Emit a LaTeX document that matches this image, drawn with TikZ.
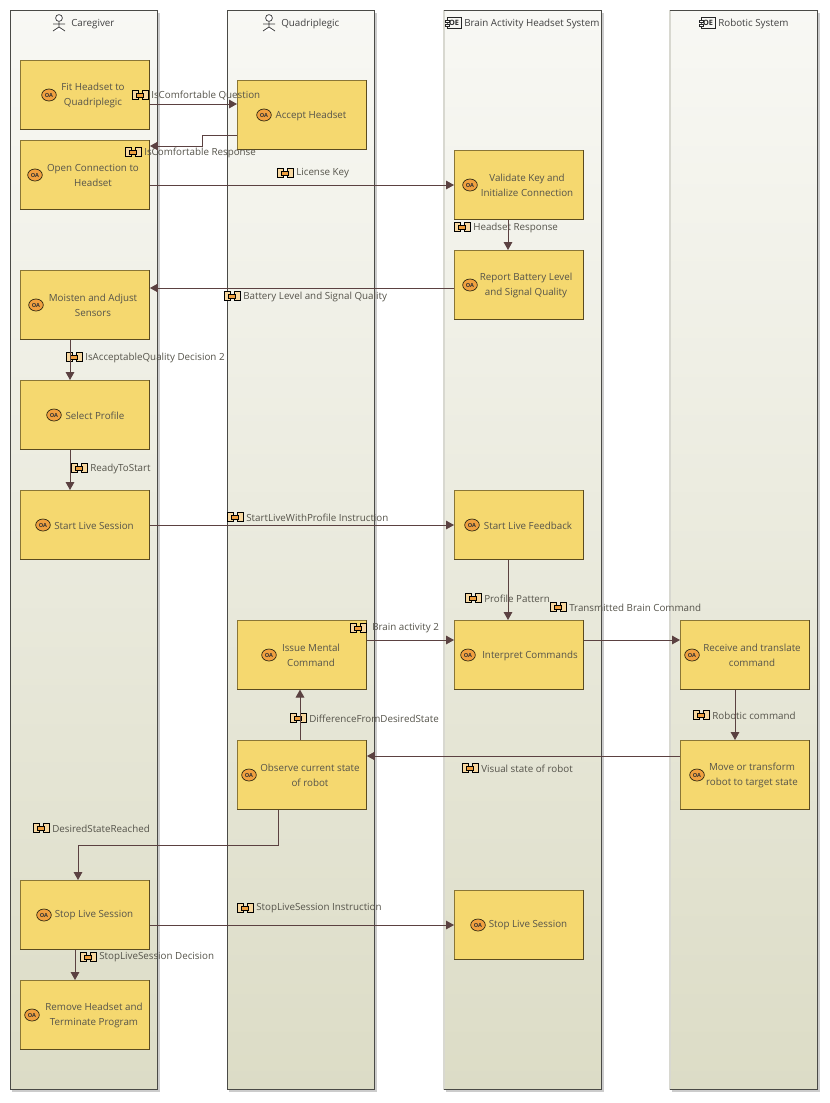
\documentclass[tikz,border=0pt]{standalone}
\usepackage{fontspec}
\setmainfont{Open Sans}
\usetikzlibrary{arrows.meta,calc,shapes.geometric}
\definecolor{lanetop}{HTML}{F8F8F4}
\definecolor{lanebot}{HTML}{DCDCC6}
\definecolor{laneline}{HTML}{4A4A46}
\definecolor{lanefaint}{HTML}{D8D8D0}
\definecolor{boxfill}{HTML}{F5D86F}
\definecolor{boxline}{HTML}{8A7636}
\definecolor{boxdark}{HTML}{5A4A20}
\definecolor{flow}{HTML}{5B4141}
\definecolor{txt}{HTML}{55534A}
\definecolor{iconorange}{HTML}{F0A040}
\definecolor{iconpale}{HTML}{F8D8A0}
\tikzset{
  x=0.75pt,y=-0.75pt,
  lanebg/.style={rectangle,inner sep=0pt,minimum height=809.25pt,anchor=north west,top color=lanetop,bottom color=lanebot,middle color=lanetop!50!lanebot},
  laneshadow/.style={fill=black!20,draw=none},
  lanerule/.style={draw=laneline,line width=0.7pt},
  lanehead/.style={inner sep=0pt,anchor=west,font=\fontsize{7.35pt}{10pt}\selectfont,text=black!75},
  actbox/.style={rectangle,inner sep=0pt,minimum width=96.75pt,minimum height=51.5pt,anchor=north west,fill=boxfill,draw=boxline,line width=0.7pt},
  acttext/.style={inner sep=0pt,align=center,font=\fontsize{7.35pt}{11.2pt}\selectfont,text=txt},
  oabadge/.style={ellipse,inner sep=0pt,minimum width=11pt,minimum height=9pt,fill=iconorange,draw=black!70!boxline,line width=0.5pt,font=\fontsize{4.2pt}{4.2pt}\selectfont\bfseries,text=black!80},
  extext/.style={inner sep=0pt,anchor=west,font=\fontsize{7.35pt}{10pt}\selectfont,text=txt},
  exicon/.style={rectangle,inner sep=0pt,minimum width=4.5pt,minimum height=7pt,fill=iconpale,draw=black,line width=0.75pt},
  flowline/.style={draw=flow,line width=0.7pt,-{Triangle[length=6pt,width=6.5pt]}},
  actor/.style={draw=black!75,line width=0.55pt,fill=white},
  compicon/.style={rectangle,inner sep=0pt,minimum width=10.5pt,minimum height=8.5pt,fill=lanetop,draw=black!85,line width=0.6pt,font=\fontsize{5.5pt}{5.5pt}\selectfont\bfseries,text=black!85}
}
% name, left x, top y, text cx, icon x, text
\newcommand{\activity}[6]{%
  \node[actbox] (#1) at (#2,#3) {};
  \draw[boxdark,line width=0.8pt] (#1.south west) -- (#1.south east) -- (#1.north east);
  \node[acttext] (#1-text) at ($(#2,#3)+(#4,35.5)$) {#6};
  \node[oabadge] (#1-icon) at ($(#2,#3)+(#5,35)$) {OA};
}
% name, icon x, y, text x, text
\newcommand{\exchange}[5]{%
  \node[exicon] (#1-a) at (#2-5,#3) {};
  \node[exicon] (#1-b) at (#2+5,#3) {};
  \fill[iconorange,draw=black,line width=0.3pt] (#2-4,#3-2) rectangle (#2+3.5,#3+2);
  \node[extext] (#1) at (#4,#3+0.5) {#5};
}
\newcommand{\laneshape}[3]{%
  \fill[laneshadow] (#2+2,13) rectangle (#2+#3+3,1092);
  \node[lanebg,minimum width=#3*0.75pt] (#1) at (#2,10) {};
}
\newcommand{\actorfig}[3]{%
  \draw[actor] (#2,#3-5) circle (3.4);
  \draw[actor] (#2,#3-1.6) -- (#2,#3+4) (#2-6,#3+1) -- (#2+6,#3+1) (#2-6,#3+8) -- (#2,#3+4) -- (#2+6,#3+8);
  \node[inner sep=0pt] (#1) at (#2,#3) {};
}
\newcommand{\comp}[3]{%
  \node[compicon] (#1) at (#2+1,#3) {OE};
  \fill[white,draw=black!85,line width=0.3pt] (#2-8,#3-3) rectangle (#2-4,#3-0.7) (#2-8,#3+0.7) rectangle (#2-4,#3+3);
}
\begin{document}
\begin{tikzpicture}
\useasboundingbox (0,0) rectangle (830,1103);
% lanes
\laneshape{L1}{10}{147}
\laneshape{L2}{227}{147}
\laneshape{L3}{444}{157}
\laneshape{L4}{670}{147}
\draw[lanerule] (L1.north west) rectangle (L1.south east);
\draw[lanerule] (L2.north west) rectangle (L2.south east);
\draw[lanefaint,line width=0.8pt] (L3.north west) -- (L3.south west);
\draw[lanefaint,line width=0.8pt] (L4.north west) -- (L4.south west);
\draw[lanerule] (L3.north west) -- (L3.north east) -- (L3.south east) -- (L3.south west);
\draw[lanerule] (L4.north west) -- (L4.north east) -- (L4.south east) -- (L4.south west);
% headers
\actorfig{h1i}{59}{23}
\node[lanehead] (h1) at (71,24) {Caregiver};
\actorfig{h2i}{269}{23}
\node[lanehead] (h2) at (281,24) {Quadriplegic};
\comp{h3i}{453}{23}
\node[lanehead] (h3) at (464,24) {Brain Activity Headset System};
\comp{h4i}{707}{23}
\node[lanehead] (h4) at (718,24) {Robotic System};
% activities
\activity{fit}{20}{60}{73}{29}{Fit Headset to\\Quadriplegic}
\activity{accept}{237}{80}{74}{27}{Accept Headset}
\activity{open}{20}{140}{73}{15}{Open Connection to\\Headset}
\activity{validate}{454}{150}{73}{16}{Validate Key and\\Initialize Connection}
\activity{report}{454}{250}{72}{16}{Report Battery Level\\and Signal Quality}
\activity{moisten}{20}{270}{73}{16}{Moisten and Adjust\\Sensors}
\activity{select}{20}{380}{75}{34}{Select Profile}
\activity{startl}{20}{490}{74}{23}{Start Live Session}
\activity{feedback}{454}{490}{74}{18}{Start Live Feedback}
\activity{issue}{237}{620}{74}{32}{Issue Mental\\Command}
\activity{interpret}{454}{620}{76}{14}{Interpret Commands}
\activity{receive}{680}{620}{72}{12}{Receive and translate\\command}
\activity{observe}{237}{740}{73}{12}{Observe current state\\of robot}
\activity{move}{680}{740}{72}{17}{Move or transform\\robot to target state}
\activity{stopa}{20}{880}{74}{24}{Stop Live Session}
\activity{stopb}{454}{890}{74}{24}{Stop Live Session}
\activity{remove}{20}{980}{74}{12}{Remove Headset and\\Terminate Program}
% exchange labels
\exchange{x1}{140}{95}{151}{IsComfortable Question}
\exchange{x2}{133}{152}{144}{IsComfortable Response}
\exchange{x3}{285}{173}{296}{License Key}
\exchange{x4}{462}{227}{473}{Headset Response}
\exchange{x5}{232}{296}{243}{Battery Level and Signal Quality}
\exchange{x6}{74}{357}{85}{IsAcceptableQuality Decision 2}
\exchange{x7}{79}{468}{90}{ReadyToStart}
\exchange{x8}{235}{517}{246}{StartLiveWithProfile Instruction}
\exchange{x9}{473}{598}{484}{Profile Pattern}
\exchange{x10}{558}{607}{569}{Transmitted Brain Command}
\exchange{x11}{358}{628}{372}{Brain activity 2}
\exchange{x12}{298}{718}{309}{DifferenceFromDesiredState}
\exchange{x13}{701}{715}{712}{Robotic command}
\exchange{x14}{470}{768}{481}{Visual state of robot}
\exchange{x15}{41}{828}{52}{DesiredStateReached}
\exchange{x16}{245}{908}{256}{StopLiveSession Instruction}
\exchange{x17}{88}{957}{99}{StopLiveSession Decision}
% connectors
\draw[flowline] (fit.east |- 0,104) -- (accept.west |- 0,104);
\draw[flowline] (accept.west |- 0,135) -- (202,135) -- (202,146) -- (open.east |- 0,146);
\draw[flowline] (open.east |- 0,185) -- (validate.west |- 0,185);
\draw[flowline] (validate.south -| 508,0) -- (report.north -| 508,0);
\draw[flowline] (report.west |- 0,288) -- (moisten.east |- 0,288);
\draw[flowline] (moisten.south -| 70,0) -- (select.north -| 70,0);
\draw[flowline] (select.south -| 70,0) -- (startl.north -| 70,0);
\draw[flowline] (startl.east |- 0,525) -- (feedback.west |- 0,525);
\draw[flowline] (feedback.south -| 508,0) -- (interpret.north -| 508,0);
\draw[flowline] (issue.east |- 0,640) -- (interpret.west |- 0,640);
\draw[flowline] (interpret.east |- 0,640) -- (receive.west |- 0,640);
\draw[flowline] (receive.south -| 735,0) -- (move.north -| 735,0);
\draw[flowline] (move.west |- 0,756) -- (observe.east |- 0,756);
\draw[flowline] (observe.north -| 300,0) -- (issue.south -| 300,0);
\draw[flowline] (observe.south -| 278,0) -- (278,845) -- (78,845) -- (stopa.north -| 78,0);
\draw[flowline] (stopa.east |- 0,925) -- (stopb.west |- 0,925);
\draw[flowline] (stopa.south -| 75,0) -- (remove.north -| 75,0);
\end{tikzpicture}
\end{document}
